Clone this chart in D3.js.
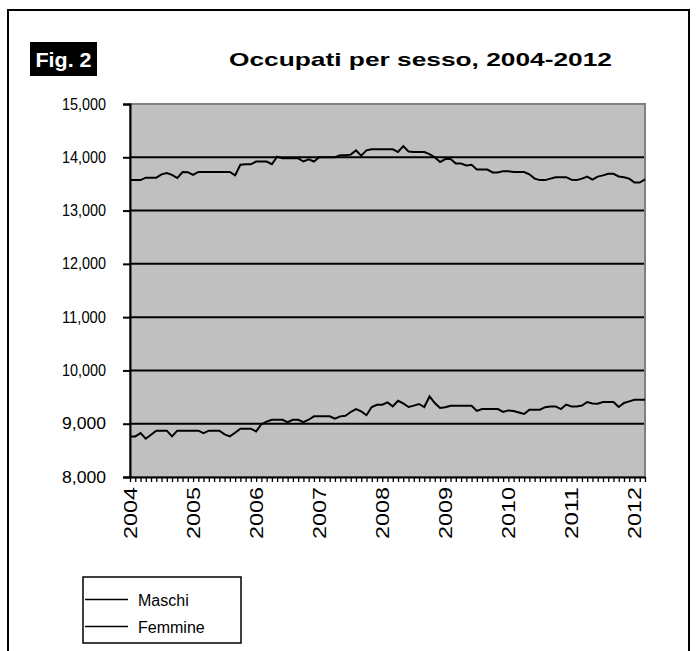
<!DOCTYPE html>
<html>
<head>
<meta charset="utf-8">
<script src="https://cdn.jsdelivr.net/npm/d3@7"></script>
<style>
  html, body { margin: 0; padding: 0; background: #fff; }
  svg { display: block; }
  text { font-family: Arial, "Liberation Sans", sans-serif; }
</style>
</head>
<body>
<svg id="chart" width="696" height="651"></svg>
<script>
// Monthly categories, January 2004 to March 2012
const months = [];
for (let y = 2004; y <= 2012; y++) {
  for (let m = 1; m <= 12; m++) {
    if (y === 2012 && m > 3) break;
    months.push(y + "-" + String(m).padStart(2, "0"));
  }
}

// Employed men (thousands)
const maschi = [
  13572, 13572, 13572, 13618, 13618, 13618, 13680, 13704, 13670, 13610,
  13724, 13720, 13670, 13724, 13724, 13724, 13724, 13724, 13724, 13724,
  13660, 13860, 13868, 13868, 13921, 13921, 13921, 13870, 14010, 13980,
  13980, 13980, 13980, 13921, 13960, 13921, 14000, 14000, 14000, 14000,
  14040, 14040, 14050, 14130, 14031, 14130, 14150, 14150, 14150, 14150,
  14150, 14100, 14210, 14110, 14100, 14098, 14098, 14060, 14000, 13910,
  13967, 13967, 13882, 13882, 13848, 13860, 13769, 13769, 13769, 13716,
  13716, 13740, 13740, 13724, 13724, 13724, 13680, 13600, 13572, 13572,
  13600, 13626, 13626, 13626, 13580, 13572, 13600, 13638, 13580, 13638,
  13660, 13690, 13690, 13640, 13626, 13600, 13527, 13527, 13586
];

// Employed women (thousands)
const femmine = [
  8762, 8762, 8825, 8718, 8793, 8869, 8869, 8869, 8762, 8869,
  8869, 8869, 8869, 8869, 8825, 8869, 8869, 8869, 8800, 8762,
  8830, 8906, 8906, 8906, 8856, 8990, 9040, 9075, 9075, 9075,
  9030, 9075, 9075, 9030, 9075, 9138, 9138, 9138, 9138, 9095,
  9138, 9150, 9220, 9275, 9231, 9160, 9313, 9356, 9356, 9400,
  9325, 9430, 9380, 9313, 9340, 9370, 9313, 9512, 9388, 9294,
  9310, 9338, 9338, 9338, 9338, 9338, 9240, 9275, 9275, 9275,
  9275, 9220, 9250, 9240, 9210, 9182, 9263, 9263, 9263, 9310,
  9325, 9325, 9275, 9360, 9325, 9325, 9340, 9407, 9380, 9375,
  9407, 9407, 9407, 9313, 9390, 9420, 9450, 9450, 9450
];

const yTicks = [8000, 9000, 10000, 11000, 12000, 13000, 14000, 15000];
const seriesNames = ["Maschi", "Femmine"];
const title = "Occupati per sesso, 2004-2012";
const figLabel = "Fig. 2";

const svg = d3.select("#chart");

// Outer frame (open at the bottom of the view)
svg.append("rect")
  .attr("x", 8).attr("y", 10)
  .attr("width", 681).attr("height", 700)
  .attr("fill", "none").attr("stroke", "#000").attr("stroke-width", 2);

// Figure badge
svg.append("rect")
  .attr("x", 30).attr("y", 42).attr("width", 67).attr("height", 34)
  .attr("fill", "#000");
svg.append("text")
  .attr("x", 63.5).attr("y", 67)
  .attr("text-anchor", "middle")
  .attr("fill", "#fff")
  .attr("font-weight", "bold")
  .attr("font-size", 21)
  .attr("textLength", 56)
  .attr("lengthAdjust", "spacingAndGlyphs")
  .text(figLabel);

// Title
svg.append("text")
  .attr("x", 229).attr("y", 66)
  .attr("font-weight", "bold")
  .attr("font-size", 19)
  .attr("textLength", 383)
  .attr("lengthAdjust", "spacingAndGlyphs")
  .text(title);

const plot = { left: 130, right: 645, top: 104, bottom: 477 };

const x = d3.scalePoint().domain(months).range([plot.left, plot.right]);
const y = d3.scaleLinear().domain([8000, 15000]).range([plot.bottom, plot.top]);

// Plot area
svg.append("rect")
  .attr("x", plot.left).attr("y", plot.top)
  .attr("width", plot.right - plot.left).attr("height", plot.bottom - plot.top)
  .attr("fill", "#c0c0c0").attr("stroke", "#808080").attr("stroke-width", 2);

// Horizontal gridlines
svg.append("g")
  .selectAll("line")
  .data(yTicks.filter(d => d > 8000 && d < 15000))
  .join("line")
  .attr("x1", plot.left).attr("x2", plot.right - 1)
  .attr("y1", d => y(d)).attr("y2", d => y(d))
  .attr("stroke", "#000").attr("stroke-width", 2);

// Series lines
const line = d3.line().x((d, i) => x(months[i])).y(d => y(d));
[maschi, femmine].forEach(series => {
  svg.append("path")
    .datum(series)
    .attr("d", line)
    .attr("fill", "none")
    .attr("stroke", "#000")
    .attr("stroke-width", 2)
    .attr("stroke-linejoin", "miter");
});

// Y axis
const yAxis = svg.append("g")
  .attr("transform", `translate(${plot.left},0)`)
  .call(d3.axisLeft(y).tickValues(yTicks).tickSize(7).tickPadding(17).tickFormat(d3.format(",")));
yAxis.select(".domain").attr("stroke-width", 2);
yAxis.selectAll(".tick line").attr("stroke-width", 2);
yAxis.selectAll("text")
  .attr("font-size", 16).attr("fill", "#000")
  .attr("font-family", "Arial, 'Liberation Sans', sans-serif")
  .attr("textLength", 44).attr("lengthAdjust", "spacingAndGlyphs");

// X axis
const xAxis = svg.append("g")
  .attr("transform", `translate(0,${plot.bottom})`)
  .call(d3.axisBottom(x).tickValues(months).tickSize(5).tickSizeOuter(0)
    .tickFormat(d => d.endsWith("-01") ? d.slice(0, 4) : ""));
xAxis.select(".domain").attr("stroke-width", 2);
xAxis.selectAll(".tick line").attr("stroke-width", 1.3);
xAxis.selectAll("text")
  .attr("font-size", 18)
  .attr("fill", "#000")
  .attr("font-family", "Arial, 'Liberation Sans', sans-serif")
  .attr("text-anchor", "end")
  .attr("dy", "0.35em")
  .attr("y", 0)
  .attr("transform", "translate(0,10) rotate(-90)")
  .each(function (d) {
    if (d.endsWith("-01")) {
      d3.select(this).attr("textLength", 52).attr("lengthAdjust", "spacingAndGlyphs");
    }
  });

// Legend
const legend = svg.append("g");
legend.append("rect")
  .attr("x", 83).attr("y", 577).attr("width", 158).attr("height", 66)
  .attr("fill", "#fff").attr("stroke", "#000").attr("stroke-width", 1.5);
const legendRow = d3.scaleBand().domain(seriesNames).range([586, 640]);
seriesNames.forEach(name => {
  const cy = legendRow(name) + legendRow.bandwidth() / 2;
  legend.append("line")
    .attr("x1", 85).attr("x2", 128)
    .attr("y1", cy).attr("y2", cy)
    .attr("stroke", "#000").attr("stroke-width", 1.5);
  legend.append("text")
    .attr("x", 138).attr("y", cy + 6)
    .attr("font-size", 16)
    .text(name);
});
</script>
</body>
</html>
